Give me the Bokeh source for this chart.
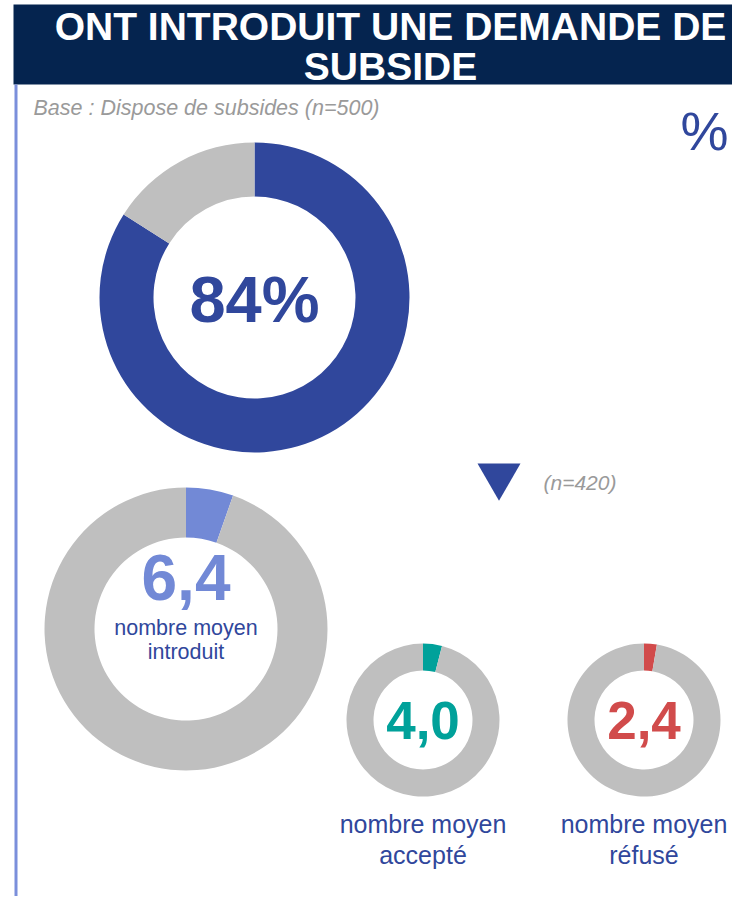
import numpy as np
from bokeh.plotting import figure
from bokeh.models import Range1d
from bokeh.core.properties import value
from bokeh.embed import file_html
from bokeh.resources import INLINE

# ---------------- data ----------------
title_lines = ["ONT INTRODUIT UNE DEMANDE DE", "SUBSIDE"]
base_text = "Base : Dispose de subsides (n=500)"
sub_base_text = "(n=420)"
unit_text = "%"

main_categories = ["Ont introduit une demande", "N'ont pas introduit"]
main_pct = [84, 16]
main_label = "84%"

avg_names = ["introduit", "accepté", "réfusé"]
avg_values = [6.4, 4.0, 2.4]
avg_labels = ["6,4", "4,0", "2,4"]
avg_arc_share = [5.4, 4.0, 2.7]      # % of the ring drawn in colour
avg_caption = "nombre moyen"

# ---------------- style ----------------
NAVY = "#05244f"
BLUE = "#30479c"
LIGHT = "#7289d6"
TEAL = "#00a19a"
RED = "#d14b4b"
GREY = "#bfbfbf"
TXT_GREY = "#9a9a9a"
FONT = value("Liberation Sans")

W, H = 732, 896
p = figure(width=W, height=H, output_backend="svg", toolbar_location=None,
           x_range=Range1d(0, W), y_range=Range1d(-H, 0),
           x_axis_type=None, y_axis_type=None, min_border=0)
p.outline_line_color = None
p.background_fill_color = "white"
p.border_fill_color = "white"

def txt(x, y, t, **kw):
    opts = dict(text_align="center", text_baseline="alphabetic", text_font=FONT)
    opts.update(kw)
    p.text(x=x, y=y, text=t, **opts)

# header band
p.quad(left=[13], right=[760], top=[-4], bottom=[-84], fill_color=NAVY, line_color=None)
txt([390, 390], [-26, -66], title_lines, text_color="white",
    text_font_style="bold", text_font_size="39px")

# left vertical rule
p.segment(x0=[15.5], y0=[-84], x1=[15.5], y1=[-920], line_color="#7b8fdb", line_width=3)

# base texts
txt([33], [-107], [base_text], text_align="left", text_color=TXT_GREY,
    text_font_style="italic", text_font_size="21.5px")
txt([704], [-130], [unit_text], text_color=BLUE, text_font_size="54px")

# ---- main donut ----
cx, cy = 254, -297
fr = np.array(main_pct, dtype=float) / sum(main_pct)
cum = np.concatenate([[0], np.cumsum(fr)])
starts = np.pi / 2 - 2 * np.pi * cum[1:]
ends = np.pi / 2 - 2 * np.pi * cum[:-1]
p.annular_wedge(x=cx, y=cy, inner_radius=101, outer_radius=155,
                start_angle=starts, end_angle=ends, direction="anticlock",
                fill_color=[BLUE, GREY], line_color=None)
txt([cx], [-299], [main_label], text_color=BLUE, text_font_style="bold", text_font_size="65px")

# arrow + sub-base
p.scatter(x=[498.5], y=[-475.4], marker="inverted_triangle", size=43,
          fill_color=BLUE, line_color=None)
txt([543], [-482], [sub_base_text], text_align="left", text_color=TXT_GREY,
    text_font_style="italic", text_font_size="21px")

# ---- average donuts ----
centers = [(185.5, -628.5), (422.5, -719.5), (643.5, -719.5)]
outer_r = [141.5, 76.5, 76.5]
inner_r = [91.5, 49.5, 49.5]
colors = [LIGHT, TEAL, RED]
for (x0, y0), ro, ri, c, share in zip(centers, outer_r, inner_r, colors, avg_arc_share):
    f = share / 100.0
    p.annular_wedge(x=x0, y=y0, inner_radius=ri, outer_radius=ro,
                    start_angle=[np.pi / 2 - 2 * np.pi * f, np.pi / 2],
                    end_angle=[np.pi / 2, np.pi / 2 - 2 * np.pi * f + 2 * np.pi],
                    direction="anticlock", fill_color=[c, GREY], line_color=None)

# big number labels
txt([185.5], [-576.5], [avg_labels[0]], text_color=LIGHT, text_font_style="bold",
    text_font_size="64px")
txt([centers[1][0], centers[2][0]], [-719.5, -719.5], avg_labels[1:], text_color=[TEAL, RED],
    text_font_style="bold", text_font_size="53px")

# captions
txt([185.5, 185.5], [-627.5, -651.5], [avg_caption, avg_names[0]], text_color=BLUE,
    text_font_size="21.5px")
txt([centers[1][0], centers[1][0], centers[2][0], centers[2][0]], [-823, -854, -823, -854],
    [avg_caption, avg_names[1], avg_caption, avg_names[2]], text_color=BLUE,
    text_font_size="25px")

open("out.html", "w").write(file_html(p, INLINE))
